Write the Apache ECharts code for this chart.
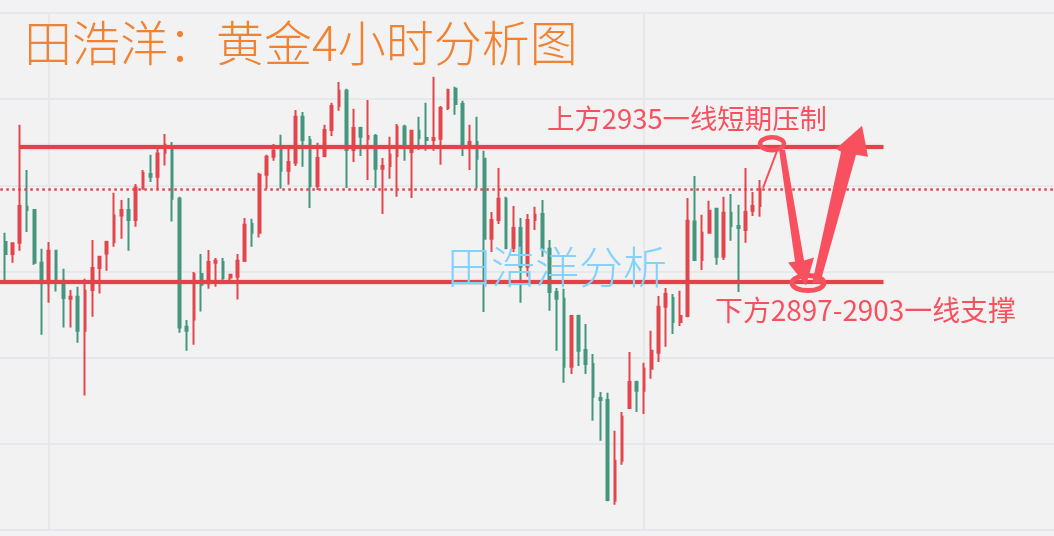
<!DOCTYPE html>
<html><head><meta charset="utf-8">
<script src="https://cdn.jsdelivr.net/npm/echarts/dist/echarts.min.js"></script>
<style>html,body{margin:0;padding:0;background:#F2F2F2;}#c{width:1054px;height:536px;}</style>
</head><body><div id="c"></div>
<script>
// ---- data ----
const opens = [2911.2,2908.2,2911.0,2920.0,2919.2,2906.0,2900.9,2909.0,2901.5,2897.0,
2897.5,2889.0,2899.2,2904.7,2908.3,2911.2,2917.8,2919.2,2916.7,2924.5,
2928.2,2927.5,2933.5,2934.5,2922.0,2890.0,2891.8,2903.2,2900.9,2906.0,
2906.2,2902.3,2902.5,2906.5,2915.7,2913.5,2928.0,2932.5,2934.5,2929.0,
2931.0,2942.5,2936.7,2925.2,2932.7,2939.2,2945.2,2949.0,2934.2,2939.7,
2937.0,2937.7,2929.5,2930.2,2932.7,2940.0,2933.7,2939.0,2937.2,2936.7,
2937.0,2944.7,2949.5,2945.7,2935.7,2936.2,2932.0,2912.0,2916.7,2922.0,
2909.7,2914.7,2905.0,2916.7,2918.2,2909.5,2898.7,2897.0,2880.0,2892.7,
2884.2,2880.7,2872.2,2871.7,2846.5,2856.5,2869.7,2876.2,2874.0,2879.5,
2883.5,2895.0,2897.2,2891.2,2892.7,2916.3,2906.7,2913.5,2919.5,2907.5,
2918.5,2915.2,2914.2,2919.0,2920.2];
const closes = [2908.2,2910.9,2920.2,2919.2,2906.0,2900.9,2909.0,2901.7,2897.2,2897.5,
2889.0,2899.0,2904.7,2907.5,2911.2,2917.8,2919.2,2916.7,2924.8,2928.5,
2927.5,2933.3,2935.5,2922.0,2889.8,2889.0,2903.2,2900.5,2906.2,2906.5,
2902.2,2903.0,2906.5,2915.5,2913.5,2928.0,2932.5,2934.0,2929.0,2931.2,
2942.5,2936.7,2925.2,2932.2,2939.2,2945.2,2949.0,2934.2,2939.7,2937.5,
2937.7,2929.5,2930.2,2933.0,2940.0,2934.7,2939.0,2937.2,2936.7,2937.2,
2944.7,2949.2,2945.7,2934.7,2936.2,2932.0,2912.0,2916.7,2922.0,2909.7,
2914.7,2905.0,2916.7,2918.0,2909.5,2898.7,2897.0,2880.0,2892.7,2884.0,
2880.7,2872.5,2871.7,2846.7,2856.5,2867.5,2876.2,2874.0,2879.5,2884.0,
2895.0,2898.2,2891.2,2892.7,2916.5,2906.7,2913.5,2919.0,2907.5,2918.5,
2915.2,2914.7,2918.7,2920.2,2924.5];
const lows = [2900.9,2906.0,2909.0,2913.7,2905.5,2888.0,2896.0,2898.8,2889.8,2889.8,
2886.0,2872.8,2892.5,2898.3,2904.0,2910.0,2912.0,2909.0,2915.0,2924.3,
2926.2,2924.4,2930.3,2916.3,2888.5,2884.0,2885.5,2893.8,2899.5,2900.0,
2900.9,2901.0,2896.8,2906.2,2910.0,2912.3,2924.5,2931.5,2924.5,2925.5,
2930.2,2930.0,2919.7,2924.2,2932.4,2937.7,2944.0,2924.7,2931.2,2932.7,
2926.7,2924.7,2918.2,2927.0,2922.5,2931.5,2922.2,2934.2,2934.0,2934.0,
2930.5,2944.2,2943.0,2932.7,2929.2,2924.5,2893.7,2908.7,2915.7,2909.4,
2908.7,2896.0,2902.5,2914.2,2907.5,2894.0,2884.0,2876.0,2878.2,2880.2,
2878.2,2866.5,2861.5,2846.4,2845.5,2855.5,2869.5,2868.7,2868.2,2877.0,
2881.2,2885.0,2888.2,2890.2,2892.4,2906.5,2904.2,2913.3,2905.5,2906.7,
2911.5,2898.7,2911.0,2917.7,2917.5];
const highs = [2913.5,2911.0,2940.5,2929.2,2919.4,2909.5,2911.2,2909.1,2904.5,2899.2,
2900.0,2902.0,2911.7,2907.7,2911.5,2923.5,2921.7,2922.2,2925.7,2929.2,
2933.0,2934.8,2938.2,2936.2,2922.5,2891.7,2903.7,2908.2,2909.2,2907.2,
2907.2,2903.2,2908.2,2917.2,2917.0,2928.5,2933.0,2935.7,2938.0,2935.0,
2944.2,2943.7,2937.7,2936.0,2940.5,2946.0,2951.2,2949.5,2944.5,2940.0,
2946.7,2938.2,2932.2,2937.5,2940.7,2940.5,2939.2,2942.5,2946.0,2952.5,
2945.2,2949.5,2950.0,2946.5,2940.5,2942.5,2934.0,2918.7,2929.7,2922.5,
2920.2,2917.2,2918.2,2920.0,2921.7,2911.7,2899.7,2899.5,2892.9,2893.0,
2890.7,2883.2,2873.7,2873.5,2864.0,2868.7,2883.7,2876.5,2881.0,2889.0,
2897.7,2899.7,2898.2,2899.0,2922.2,2927.7,2918.0,2921.5,2919.6,2922.5,
2923.2,2920.5,2929.7,2923.7,2926.7];
const resistanceLevel = 2935;
const supportLevel = 2901.3;
const titleText = '田浩洋：黄金4小时分析图';
const resistanceLabel = '上方2935一线短期压制';
const supportLabel = '下方2897-2903一线支撑';
const watermarkText = '田浩洋分析';
const leadingSlots = 1;
const trailingSlots = 40;
const categories = Array.from({length: leadingSlots + opens.length + trailingSlots}, (_, i) => 'K' + i);

// ---- styles ----
const RED = '#E2464C', GREEN = '#45967F', LINE = '#E2434B', PINK = '#F8505F';
const FONT = '"Noto Sans CJK SC", "Noto Sans", sans-serif';

const candleData = categories.map((_, i) => {
  const k = i - leadingSlots;
  return (k >= 0 && k < opens.length) ? [opens[k], closes[k], lows[k], highs[k]] : ['-', '-', '-', '-'];
});
const firstIdx = leadingSlots, lastIdx = leadingSlots + opens.length - 1;
const lineEnd = lastIdx + 17;

const chart = echarts.init(document.getElementById('c'), null, {renderer: 'canvas'});
const bandW = 7.258;
chart.setOption({
  animation: false,
  backgroundColor: '#F2F2F2',
  title: {text: titleText, left: 24, top: 19, padding: 0,
    textStyle: {fontSize: 48, fontWeight: 300, color: '#F08232', fontFamily: FONT, lineHeight: 48}},
  grid: [
    {left: -5.69, width: categories.length * bandW, top: 13, bottom: 6, outerBoundsMode: 'none', containLabel: false},
    {left: -5.69 + 7.5 * bandW, width: 82 * bandW * 2, top: 13, bottom: 6, outerBoundsMode: 'none', containLabel: false}
  ],
  xAxis: [
    {type: 'category', gridIndex: 0, data: categories, boundaryGap: true, show: false},
    {type: 'value', gridIndex: 1, min: 0, max: 2, interval: 1, axisLine: {show: false}, axisTick: {show: false}, axisLabel: {show: false},
      splitLine: {show: true, lineStyle: {color: '#E7E7EC', width: 2}}}
  ],
  yAxis: [
    {type: 'value', gridIndex: 0, min: 2839.2, max: 2968.45, show: false},
    {type: 'value', gridIndex: 0, min: 0, max: 6, interval: 1, axisLine: {show: false}, axisTick: {show: false}, axisLabel: {show: false},
      splitLine: {show: true, lineStyle: {color: '#E7E7EC', width: 2}}},
    {type: 'value', gridIndex: 1, min: 0, max: 1, show: false}
  ],
  series: [{
    type: 'candlestick', xAxisIndex: 0, yAxisIndex: 0, data: candleData, barWidth: 2.2,
    itemStyle: {color: RED, color0: GREEN, borderColor: RED, borderColor0: GREEN, borderWidth: 2},
    markLine: {
      silent: true, symbol: ['none', 'none'], label: {show: false}, animation: false,
      data: [
        {yAxis: closes[closes.length - 1], lineStyle: {type: [2.5, 3.5], width: 2.5, color: LINE}},
        [{coord: [firstIdx + 2, resistanceLevel], lineStyle: {type: 'solid', width: 4, color: LINE, shadowColor: 'rgba(226,67,75,0.45)', shadowBlur: 2}},
         {coord: [lineEnd, resistanceLevel]}],
        [{coord: [0, supportLevel], lineStyle: {type: 'solid', width: 4, color: LINE, shadowColor: 'rgba(226,67,75,0.45)', shadowBlur: 2}},
         {coord: [lineEnd, supportLevel]}]
      ]
    }
  }]
});

// ---- annotations anchored to the chart's scales ----
const lastPt = chart.convertToPixel({xAxisIndex: 0, yAxisIndex: 0}, [lastIdx, closes[closes.length - 1]]);
const ax = lastPt[0];
const yUp = chart.convertToPixel({yAxisIndex: 0}, resistanceLevel);
const yLow = chart.convertToPixel({yAxisIndex: 0}, supportLevel);

chart.setOption({
  graphic: [
    {type: 'text', x: 447, y: yLow - 14, z: 50, style: {text: watermarkText, fontSize: 44, fontWeight: 300, fontFamily: FONT, fill: '#84D2FA', verticalAlign: 'middle'}},
    {type: 'text', x: 547, y: yUp - 28, z: 50, style: {text: resistanceLabel, fontSize: 27.4, fontFamily: FONT, fill: PINK, verticalAlign: 'middle'}},
    {type: 'text', x: 715, y: yLow + 29, z: 50, style: {text: supportLabel, fontSize: 27.9, fontFamily: FONT, fill: PINK, verticalAlign: 'middle'}},
    {type: 'line', z: 50, shape: {x1: ax + 3, y1: lastPt[1] - 1, x2: ax + 17, y2: yUp + 4}, style: {stroke: PINK, lineWidth: 2}},
    {type: 'polygon', z: 50, shape: {points: [
      [ax + 19, yUp + 3], [ax + 35, yLow - 20], [ax + 28, yLow - 19], [ax + 46, yLow + 4],
      [ax + 54, yLow - 24], [ax + 44, yLow - 21], [ax + 25, yUp + 3]]}, style: {fill: PINK}},
    {type: 'polygon', z: 50, shape: {points: [
      [ax + 52, yLow + 2], [ax + 81, yUp + 5], [ax + 76, yUp + 2], [ax + 102, yUp - 21],
      [ax + 108, yUp + 10], [ax + 96, yUp + 8], [ax + 60, yLow + 2]]}, style: {fill: PINK}},
    {type: 'ellipse', z: 51, shape: {cx: ax + 12, cy: yUp - 3, rx: 12, ry: 6.5}, style: {fill: 'none', stroke: PINK, lineWidth: 4.5}},
    {type: 'ellipse', z: 51, shape: {cx: ax + 48, cy: yLow + 1.5, rx: 16, ry: 7.5}, style: {fill: 'none', stroke: PINK, lineWidth: 5}}
  ]
});
</script></body></html>
